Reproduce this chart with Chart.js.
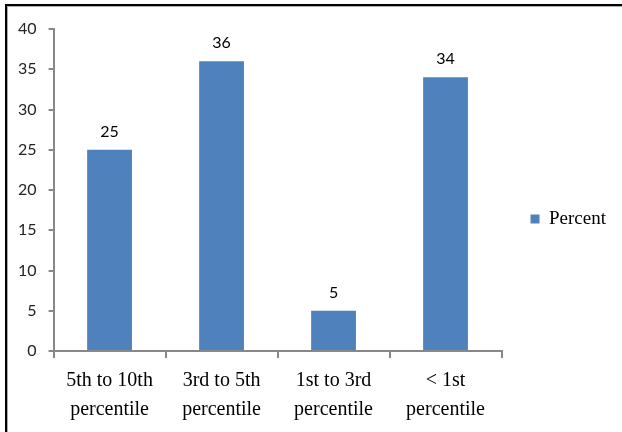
<!DOCTYPE html>
<html>
<head>
<meta charset="utf-8">
<script src="https://cdn.jsdelivr.net/npm/chart.js@4/dist/chart.umd.min.js"></script>
<style>
    html, body { margin: 0; padding: 0; background: #fff; overflow: hidden; }
    #wrap { position: relative; width: 622px; height: 432px; }
    #frame {
        position: absolute; left: 5px; top: 4px; width: 700px; height: 500px;
        border-left: 2px solid #000; border-top: 2px solid #000;
        box-shadow: inset 1px 1px 0 #aaa;
    }
    #chart { position: absolute; left: 0; top: 0; }
</style>
</head>
<body>
<div id="wrap">
    <div id="frame"></div>
    <canvas id="chart" width="622" height="432"></canvas>
</div>
<script>
const categories = [
    ['5th to 10th', 'percentile'],
    ['3rd to 5th', 'percentile'],
    ['1st to 3rd', 'percentile'],
    ['< 1st', 'percentile']
];
const percentValues = [25, 36, 5, 34];
const seriesName = 'Percent';
const yTicks = { min: 0, max: 40, step: 5 };

const barLabels = {
    id: 'barLabels',
    afterDatasetsDraw(chart) {
        const ctx = chart.ctx;
        const meta = chart.getDatasetMeta(0);
        ctx.save();
        ctx.font = '16px Lato';
        ctx.fillStyle = '#000';
        ctx.textAlign = 'center';
        ctx.textBaseline = 'alphabetic';
        meta.data.forEach((bar, i) => {
            ctx.fillText(String(percentValues[i]), bar.x, bar.y - 13);
        });
        ctx.restore();
    }
};

new Chart(document.getElementById('chart').getContext('2d'), {
    type: 'bar',
    data: {
        labels: categories,
        datasets: [{
            label: seriesName,
            data: percentValues,
            backgroundColor: '#4F81BD',
            borderWidth: 0,
            barPercentage: 0.4,
            categoryPercentage: 1.0
        }]
    },
    options: {
        responsive: false,
        devicePixelRatio: 1,
        animation: false,
        layout: { padding: { left: 6, top: 29, right: 6, bottom: 0 } },
        scales: {
            x: {
                grid: { offset: true, drawOnChartArea: false, drawTicks: true, tickLength: 7, color: '#888', lineWidth: 2 },
                border: { color: '#888', width: 2 },
                ticks: {
                    color: '#000',
                    font: { family: 'Liberation Serif', size: 20, lineHeight: 1.45 },
                    padding: 8,
                    maxRotation: 0
                }
            },
            y: {
                min: yTicks.min,
                max: yTicks.max,
                grid: { drawOnChartArea: false, drawTicks: true, tickLength: 5, color: '#888', lineWidth: 2 },
                border: { color: '#888', width: 2 },
                ticks: {
                    stepSize: yTicks.step,
                    color: '#222',
                    font: { family: 'Lato', size: 16 },
                    padding: 12
                }
            }
        },
        plugins: {
            legend: {
                position: 'right',
                labels: {
                    boxWidth: 9,
                    boxHeight: 9,
                    padding: 29,
                    color: '#000',
                    font: { family: 'Liberation Serif', size: 19, lineHeight: 1.1 },
                    // an empty second line lifts the entry to sit where the original legend does
                    generateLabels(chart) {
                        const items = Chart.defaults.plugins.legend.labels.generateLabels(chart);
                        items.forEach(item => { item.text = [item.text, '']; });
                        return items;
                    }
                }
            },
            tooltip: { enabled: false }
        }
    },
    plugins: [barLabels]
});
</script>
</body>
</html>
